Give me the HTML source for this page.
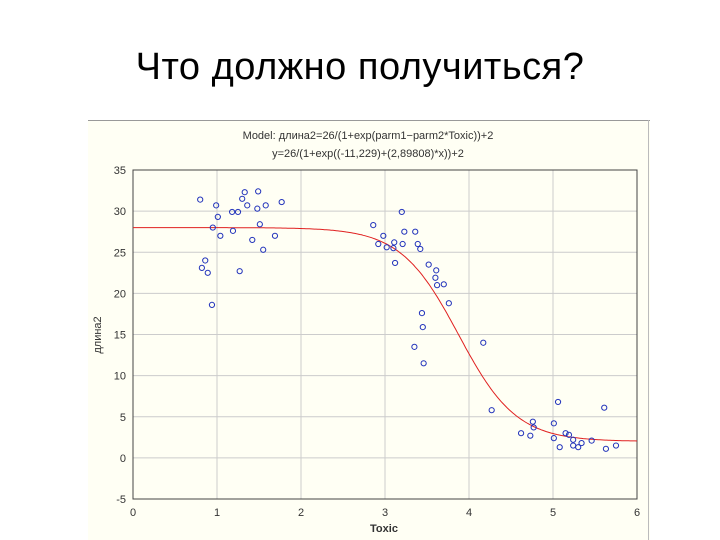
<!DOCTYPE html>
<html><head><meta charset="utf-8"><style>
body{margin:0;width:720px;height:540px;background:#fff;overflow:hidden;font-family:"Liberation Sans",sans-serif}
#title{position:absolute;left:0;top:46px;width:720px;text-align:center;font-size:38px;color:#000;letter-spacing:0.5px}
svg{position:absolute;left:0;top:0}
</style></head><body>
<div id="title">Что должно получиться?</div>
<svg width="720" height="540">
<rect x="88" y="120" width="562" height="420" fill="#fffff4"/>
<line x1="88" y1="120.5" x2="650" y2="120.5" stroke="#999"/>
<line x1="648.5" y1="120" x2="648.5" y2="540" stroke="#bbb"/>
<text x="368" y="139" font-size="11" text-anchor="middle" fill="#333">Model: длина2=26/(1+exp(parm1−parm2*Toxic))+2</text>
<text x="368" y="157" font-size="11" text-anchor="middle" fill="#333">y=26/(1+exp((-11,229)+(2,89808)*x))+2</text>
<g id="grid"></g><g id="axes"></g><g id="curve"></g><g id="pts"></g>
<text x="384" y="532" font-size="11" font-weight="bold" text-anchor="middle" fill="#333">Toxic</text>
<text transform="translate(101,335) rotate(-90)" font-size="11" text-anchor="middle" fill="#333">длина2</text>
</svg>
<script>
const xTicks=[0,1,2,3,4,5,6];
const yTicks=[-5,0,5,10,15,20,25,30,35];
const ptX=[0.80,0.99,1.01,0.95,1.04,0.86,0.82,0.89,0.94,1.18,1.19,1.25,1.30,1.33,1.36,1.27,1.42,1.49,1.48,1.51,1.55,1.58,1.69,1.77,
2.86,2.98,2.92,3.02,3.10,3.11,3.12,3.21,3.20,3.23,3.36,3.39,3.42,3.52,3.61,3.60,3.62,3.70,3.76,3.44,3.45,3.35,3.46,4.17,4.27,
4.62,4.73,4.76,4.77,5.01,5.06,5.01,5.08,5.15,5.19,5.24,5.24,5.30,5.34,5.46,5.61,5.63,5.75];
const ptY=[31.4,30.7,29.3,28,27,24,23.1,22.5,18.6,29.9,27.6,29.9,31.5,32.3,30.7,22.7,26.5,32.4,30.3,28.4,25.3,30.7,27,31.1,
28.3,27,26,25.6,25.5,26.2,23.7,26,29.9,27.5,27.5,26,25.4,23.5,22.8,21.9,21,21.1,18.8,17.6,15.9,13.5,11.5,14,5.8,
3.0,2.7,4.4,3.7,4.2,6.8,2.4,1.3,3.0,2.8,2.2,1.5,1.3,1.8,2.1,6.1,1.1,1.5];
const A=26,p1=11.229,p2=2.89808,C=2;
const L=133,R=637,T=170,B=499;
const sx=v=>L+(v-0)/(6-0)*(R-L), sy=v=>B-(v+5)/(40)*(B-T);
const NS="http://www.w3.org/2000/svg";
function mk(t,a,p){const e=document.createElementNS(NS,t);for(const k in a)e.setAttribute(k,a[k]);p.appendChild(e);return e;}
const g=document.getElementById('grid'),ax=document.getElementById('axes');
xTicks.forEach(v=>{const l=mk('line',{x1:sx(v),x2:sx(v),y1:T,y2:B,stroke:'#ccc','stroke-width':1},g);


const t=mk('text',{x:sx(v),y:B+17,'font-size':11,'text-anchor':'middle',fill:'#333'},ax);t.textContent=v;

});
yTicks.forEach(v=>{const l=mk('line',{x1:L,x2:R,y1:sy(v),y2:sy(v),stroke:'#ccc','stroke-width':1},g);


const t=mk('text',{x:L-7,y:sy(v)+4,'font-size':11,'text-anchor':'end',fill:'#333'},ax);t.textContent=v;

});
const f=mk('rect',{x:L,y:T,width:R-L,height:B-T,fill:'none',stroke:'#444'},ax);


let d='';for(let i=0;i<=300;i++){const x=6*i/300,y=A/(1+Math.exp(-p1+p2*x))+C;d+=(i?'L':'M')+sx(x).toFixed(1)+' '+sy(y).toFixed(1);}
const c=mk('path',{d:d,fill:'none',stroke:'#e02020','stroke-width':1},document.getElementById('curve'));


const pg=document.getElementById('pts');
ptX.forEach((x,i)=>{const e=mk('circle',{cx:sx(x),cy:sy(ptY[i]),r:2.6,fill:'none',stroke:'#2233bb','stroke-width':1},pg);

});
</script>
</body></html>
